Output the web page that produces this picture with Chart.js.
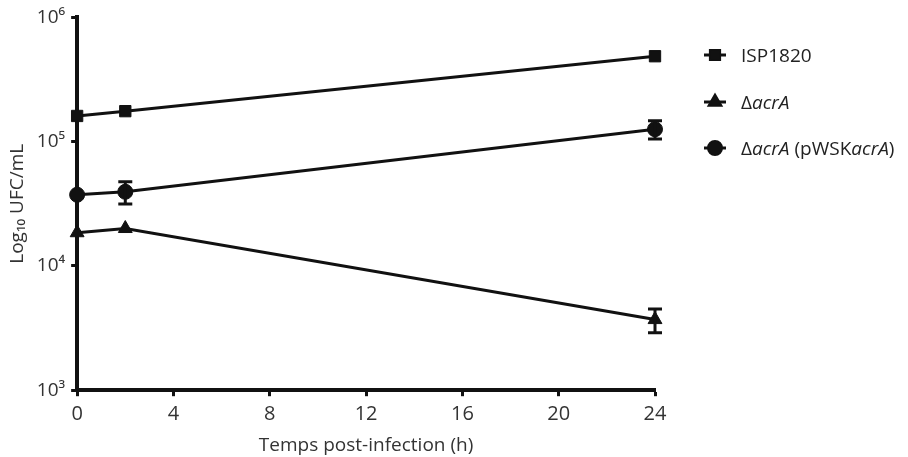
<!DOCTYPE html>
<html><head><meta charset="utf-8">
<script src="https://cdn.jsdelivr.net/npm/chart.js@4/dist/chart.umd.min.js"></script>
<style>
html,body{margin:0;padding:0;background:#fff;}
#wrap{position:relative;width:908px;height:457px;}
#legend{position:absolute;left:703px;top:32px;font-family:"Open Sans","Liberation Sans",sans-serif;font-size:19px;color:#222;}
.item{display:flex;align-items:center;height:46.5px;}
.item canvas{margin-right:14px;}
</style></head>
<body><div id="wrap"><canvas id="c" width="908" height="457"></canvas>
<div id="legend">
<div class="item"><canvas id="m0" width="24" height="20"></canvas><span>ISP1820</span></div>
<div class="item"><canvas id="m1" width="24" height="20"></canvas><span>Δ<i>acrA</i></span></div>
<div class="item"><canvas id="m2" width="24" height="20"></canvas><span>Δ<i>acrA</i> (pWSK<i>acrA</i>)</span></div>
</div></div>
<script>
const hours = [0, 2, 24];
const isp1820 = [161000, 176000, 487000];
const isp1820Err = [0, 0, 0];
const acrA = [18500, 20000, 3700];
const acrAErr = [0, 0, 800];
const acrAcomp = [37400, 39500, 126000];
const acrAcompErr = [0, 8000, 21000];
const yTicks = [1000, 10000, 100000, 1000000];
const yTickLabels = ['10³', '10⁴', '10⁵', '10⁶'];
const seriesNames = ['ISP1820', 'ΔacrA', 'ΔacrA (pWSKacrA)'];

const FONT = '"Open Sans","Liberation Sans",sans-serif';

const errorBars = {
  id: 'errorBars',
  afterDatasetsDraw(chart) {
    const ctx = chart.ctx, ys = chart.scales.y, xs = chart.scales.x;
    chart.data.datasets.forEach(ds => {
      if (!ds.errors) return;
      ctx.save();
      ctx.strokeStyle = '#111';
      ctx.lineWidth = 3;
      ds.data.forEach((p, i) => {
        const e = ds.errors[i];
        if (!e) return;
        const x = xs.getPixelForValue(p.x);
        const y1 = ys.getPixelForValue(p.y + e);
        const y2 = ys.getPixelForValue(p.y - e);
        ctx.beginPath();
        ctx.moveTo(x, y1); ctx.lineTo(x, y2);
        ctx.moveTo(x - 7, y1); ctx.lineTo(x + 7, y1);
        ctx.moveTo(x - 7, y2); ctx.lineTo(x + 7, y2);
        ctx.stroke();
      });
      ctx.restore();
    });
  }
};

function mk(vals, errs, name, style) {
  return {
    label: name,
    data: hours.map((h, i) => ({x: h, y: vals[i]})),
    errors: errs,
    borderColor: '#111', backgroundColor: '#111',
    borderWidth: 3, pointStyle: style,
    pointRadius: style === 'triangle' ? 8 : (style === 'rect' ? 8 : 7.5),
    pointBorderWidth: 1, tension: 0, clip: false
  };
}

new Chart(document.getElementById('c'), {
  type: 'line',
  data: { datasets: [
    mk(isp1820, isp1820Err, seriesNames[0], 'rect'),
    mk(acrA, acrAErr, seriesNames[1], 'triangle'),
    mk(acrAcomp, acrAcompErr, seriesNames[2], 'circle')
  ]},
  options: {
    responsive: false, animation: false,
    layout: { padding: { left: 6, right: 253, top: 16, bottom: 0 } },
    plugins: { legend: { display: false }, tooltip: { enabled: false } },
    scales: {
      x: {
        type: 'linear', min: 0, max: 24,
        ticks: { stepSize: 4, color: '#333', font: { family: FONT, size: 20 }, padding: 6 },
        grid: { display: true, drawOnChartArea: false, drawTicks: true, tickLength: 6, tickWidth: 3, tickColor: '#111' },
        border: { display: true, color: '#111', width: 4 },
        title: { display: true, text: 'Temps post-infection (h)', color: '#333', font: { family: FONT, size: 19 }, padding: { top: 2, bottom: 0 } }
      },
      y: {
        type: 'logarithmic', min: 1000, max: 1000000,
        afterBuildTicks(axis) { axis.ticks = yTicks.map(v => ({value: v})); },
        ticks: { color: '#333', font: { family: FONT, size: 19 }, padding: 6,
          callback: (v) => yTickLabels[yTicks.indexOf(v)] || '' },
        grid: { display: true, drawOnChartArea: false, drawTicks: true, tickLength: 6, tickWidth: 3, tickColor: '#111' },
        border: { display: true, color: '#111', width: 4 },
        title: { display: true, text: 'Log₁₀ UFC/mL', color: '#333', font: { family: FONT, size: 19 }, padding: { top: 0, bottom: 2 } }
      }
    }
  },
  plugins: [errorBars]
});

// legend markers
['rect', 'triangle', 'circle'].forEach((s, i) => {
  const c = document.getElementById('m' + i).getContext('2d');
  c.strokeStyle = '#111'; c.fillStyle = '#111'; c.lineWidth = 3;
  c.beginPath(); c.moveTo(1, 10); c.lineTo(23, 10); c.stroke();
  Chart.helpers.drawPoint(c, { pointStyle: s, radius: 6.5, borderWidth: 1 }, 12, 10);
  c.fill();
});
</script></body></html>
